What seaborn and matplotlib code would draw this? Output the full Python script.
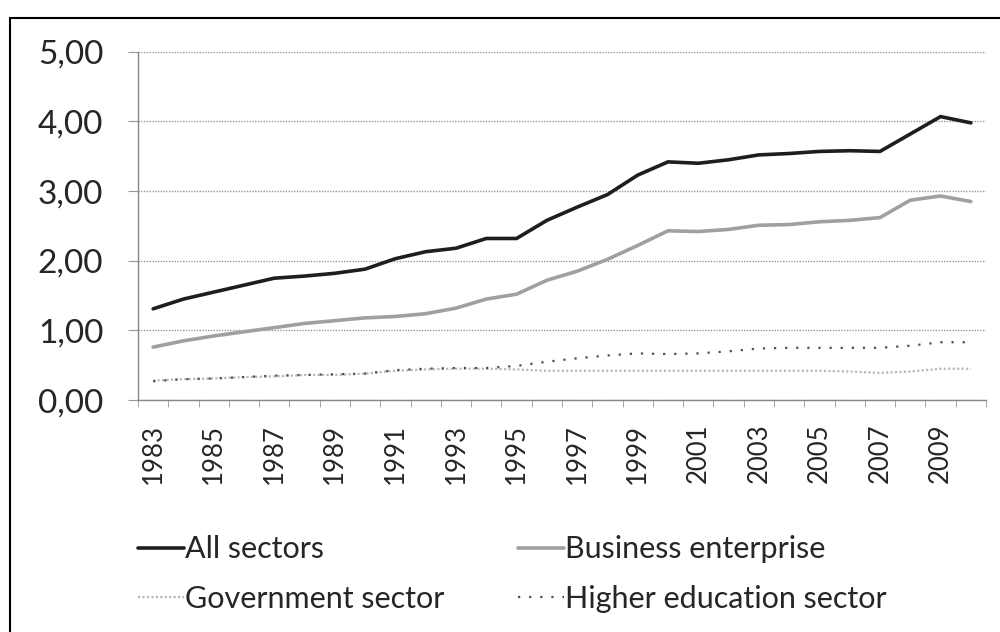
import pandas as pd
import matplotlib.pyplot as plt
import matplotlib.patches as patches
from matplotlib.ticker import FuncFormatter
import seaborn as sns

years = list(range(1983, 2011))

all_sectors = [1.31, 1.45, 1.55, 1.65, 1.75, 1.78, 1.82, 1.88, 2.03, 2.13,
               2.18, 2.32, 2.32, 2.58, 2.77, 2.95, 3.23, 3.42, 3.40, 3.45,
               3.52, 3.54, 3.57, 3.58, 3.57, 3.82, 4.07, 3.98]
business = [0.76, 0.85, 0.92, 0.98, 1.04, 1.10, 1.14, 1.18, 1.20, 1.24,
            1.32, 1.45, 1.52, 1.72, 1.85, 2.02, 2.22, 2.43, 2.42, 2.45,
            2.51, 2.52, 2.56, 2.58, 2.62, 2.87, 2.93, 2.85]
government = [0.28, 0.30, 0.31, 0.33, 0.34, 0.36, 0.36, 0.38, 0.42, 0.44,
              0.45, 0.45, 0.44, 0.42, 0.42, 0.42, 0.42, 0.42, 0.42, 0.42,
              0.42, 0.42, 0.42, 0.41, 0.39, 0.41, 0.45, 0.45]
higher_edu = [0.27, 0.30, 0.31, 0.33, 0.35, 0.36, 0.37, 0.38, 0.43, 0.45,
              0.46, 0.46, 0.49, 0.55, 0.60, 0.64, 0.67, 0.66, 0.67, 0.70,
              0.74, 0.75, 0.75, 0.75, 0.75, 0.78, 0.83, 0.83]

series_names = ["All sectors", "Business enterprise",
                "Government sector", "Higher education sector"]

df = pd.DataFrame({"year": years, "All sectors": all_sectors,
                   "Business enterprise": business,
                   "Government sector": government,
                   "Higher education sector": higher_edu})

sns.set_style("white")
plt.rcParams['font.family'] = ['Lato', 'DejaVu Sans']

fig = plt.figure(figsize=(10, 6.32), dpi=100)
ax = fig.add_axes([0.138, 0.367, 0.848, 0.551])

styles = {
    "All sectors": dict(color="#1e1e1e", lw=2.6, ls="-"),
    "Business enterprise": dict(color="#a0a0a0", lw=2.6, ls="-"),
    "Government sector": dict(color="#b8b8b8", lw=1.6, ls=(0, (1, 1))),
    "Higher education sector": dict(color="#505050", lw=1.6, ls=(0, (1, 4))),
}

for name in series_names:
    st = styles[name]
    sns.lineplot(data=df, x="year", y=name, ax=ax, label=name,
                 color=st["color"], linewidth=st["lw"], linestyle=st["ls"])

ax.set_xlim(1982.5, 2010.5)
ax.set_ylim(0, 5)
ax.set_yticks([0, 1, 2, 3, 4, 5])
ax.yaxis.set_major_formatter(FuncFormatter(lambda v, p: f"{v:.2f}".replace(".", ",")))
ax.set_xticks(years[::2])
ax.set_xticklabels([str(y) for y in years[::2]], rotation=90)
ax.set_xticks([y - 0.5 for y in years] + [2010.5], minor=True)
ax.set_xlabel("")
ax.set_ylabel("")

ax.grid(axis="y", color="#999999", linestyle=(0, (1, 1)), linewidth=1)
ax.set_axisbelow(True)
for s in ["top", "right"]:
    ax.spines[s].set_visible(False)
for s in ["left", "bottom"]:
    ax.spines[s].set_color("#888888")
    ax.spines[s].set_linestyle((0, (1, 1)))
    ax.spines[s].set_linewidth(1)

ax.tick_params(axis="y", labelsize=24, length=7, color="#999999", pad=18, left=True)
ax.tick_params(axis="x", which="major", labelsize=18.5, length=0, pad=17)
ax.tick_params(axis="x", which="minor", length=5, color="#999999", bottom=True)

# legend filled column-wise, so reorder to read row by row like the original
ax.get_legend().remove()
handles, labels = ax.get_legend_handles_labels()
order = [0, 2, 1, 3]
fig.legend([handles[i] for i in order], [labels[i] for i in order],
           ncol=2, loc="upper left", bbox_to_anchor=(0.138, 0.153),
           frameon=False, fontsize=22, handlelength=1.5, handletextpad=0.05,
           columnspacing=2.4, labelspacing=0.71, borderaxespad=0, borderpad=0)

# outer frame of the chart
fig.patches.append(patches.Rectangle((0.01, -0.02), 1.1, 0.9715 + 0.02,
                                     transform=fig.transFigure, fill=False,
                                     edgecolor="black", linewidth=1.5))

fig.savefig("out.png", dpi=100)
